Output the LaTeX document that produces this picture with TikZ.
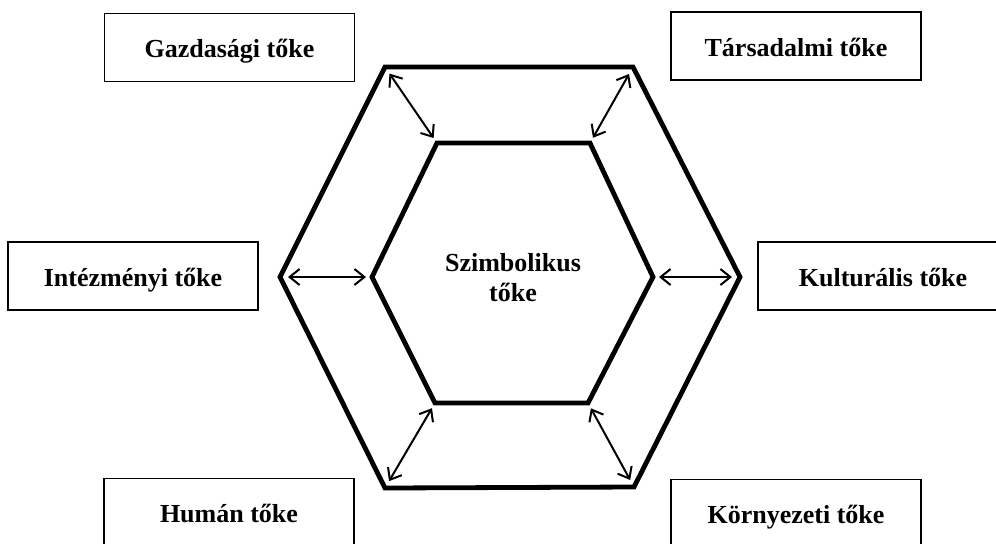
\documentclass[tikz,border=0pt]{standalone}
\usepackage{fontspec}
\setmainfont{Liberation Serif}
\usetikzlibrary{arrows.meta}
\tikzstyle{capbox} = [draw, line width=0.8pt, minimum width=125pt, minimum height=34pt, text height=10pt, text depth=0pt, font=\fontsize{13}{15}\selectfont\bfseries]
\tikzstyle{hexline} = [line width=2.4pt]
\tikzset{>={Straight Barb[length=5pt,width=8pt]}}

\begin{document}
\begin{tikzpicture}[x=0.5pt, y=-0.5pt]
  \clip (0,0) rectangle (996,543);
  % Hexagon corners
  \foreach \n/\x/\y in {o1/385/67, o2/633/67, o3/740/277, o4/634/487, o5/385/488, o6/280/277} {
    \coordinate (\n) at (\x,\y);
  }
  \foreach \n/\x/\y in {i1/437/143, i2/590/143, i3/653/277, i4/588/403, i5/435/403, i6/372/277} {
    \coordinate (\n) at (\x,\y);
  }
  % Hexagons
  \draw[hexline] (o1) -- (o2) -- (o3) -- (o4) -- (o5) -- (o6) -- cycle;
  \draw[hexline] (i1) -- (i2) -- (i3) -- (i4) -- (i5) -- (i6) -- cycle;
  % Arrows
  \foreach \k in {1,...,6} {
    \draw[<->, line width=1pt, shorten <=4pt, shorten >=3pt] (o\k) -- (i\k);
  }
  % Labels
  \node[font=\fontsize{13}{15}\selectfont\bfseries, align=center] (szimb) at (513,278) {Szimbolikus\\tőke};
  \node[capbox] (gazd) at (229.5,47.5) {Gazdasági tőke};
  \node[capbox] (tars) at (796,46) {Társadalmi tőke};
  \node[capbox] (intez) at (133,276) {Intézményi tőke};
  \node[capbox] (kult) at (883,276) {Kulturális tőke};
  \node[capbox] (human) at (229,512.5) {Humán tőke};
  \node[capbox] (korny) at (796,513.5) {Környezeti tőke};
\end{tikzpicture}
\end{document}
